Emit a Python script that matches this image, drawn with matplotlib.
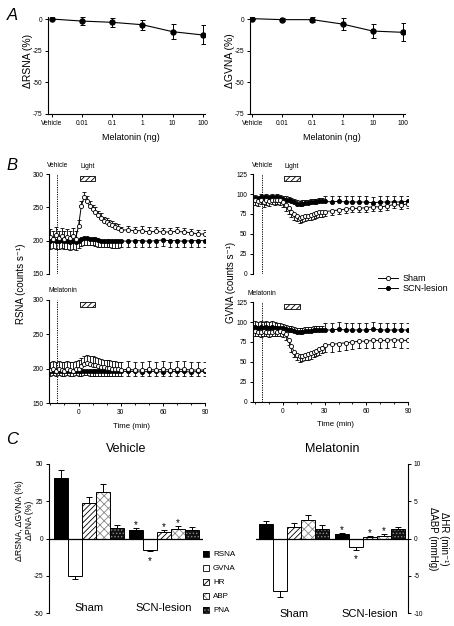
import matplotlib
matplotlib.use('Agg')
import matplotlib.pyplot as plt
import numpy as np
from matplotlib.patches import Rectangle
from matplotlib.lines import Line2D
import matplotlib.transforms as mtransforms

plt.rcParams['font.family'] = ['Liberation Sans', 'DejaVu Sans']
plt.rcParams['axes.unicode_minus'] = False
plt.rcParams['hatch.linewidth'] = 0.6

# ---------------- data ----------------
dose_labels = ['Vehicle', '0.01', '0.1', '1', '10', '100']
rsna_dose = [0, -1.6, -2.6, -4.5, -10, -12.6]
rsna_dose_err = [0, 3, 3.7, 4, 6, 7.5]
gvna_dose = [0.3, -0.5, -0.5, -4, -9.5, -10.5]
gvna_dose_err = [0, 1, 2, 4.7, 5.4, 7]

time_min = [-20, -18, -16, -14, -12, -10, -8, -6, -4, -2, 0, 2, 4, 6, 8, 10, 12, 14, 16, 18,
            20, 22, 24, 26, 28, 30, 35, 40, 45, 50, 55, 60, 65, 70, 75, 80, 85, 90]

rsna_veh_sham = [205, 203, 208, 204, 207, 203, 206, 204, 207, 203,
                 222, 252, 265, 259, 252, 247, 243, 238, 234, 230, 228, 225, 223, 221, 219,
                 216, 216, 215, 215, 213, 214, 213, 213, 214, 213, 212, 210, 210]
rsna_veh_sham_err = [12, 11, 12, 11, 12, 11, 12, 11, 12, 11,
                     9, 8, 8, 8, 7, 7, 7, 7, 7, 6, 6, 6, 6, 6, 6,
                     5, 6, 6, 7, 7, 6, 6, 6, 6, 6, 6, 6, 6]
rsna_veh_scn = [200, 201, 199, 200, 201, 199, 200, 198, 199, 198,
                199, 202, 204, 204, 203, 203, 202, 201, 200, 200, 200, 200, 199, 199, 199,
                200, 199, 200, 200, 199, 200, 201, 200, 200, 199, 200, 200, 200]
rsna_veh_scn_err = [12, 12, 12, 12, 12, 12, 12, 12, 12, 12,
                    10, 10, 10, 10, 10, 10, 10, 10, 10, 10, 10, 10, 10, 10, 10,
                    9, 9, 9, 9, 9, 9, 9, 9, 9, 9, 9, 9, 9]

rsna_mel_sham = [198, 199, 197, 199, 198, 197, 199, 198, 197, 199,
                 200, 204, 207, 208, 207, 206, 205, 204, 203, 202, 201, 201, 200, 200, 199,
                 198, 199, 198, 198, 199, 198, 199, 198, 199, 199, 198, 198, 198]
rsna_mel_sham_err = [12, 12, 12, 12, 12, 12, 12, 12, 12, 12,
                     12, 12, 12, 12, 12, 12, 12, 11, 11, 11, 11, 11, 11, 11, 11,
                     12, 12, 12, 12, 12, 12, 12, 12, 12, 12, 12, 12, 12]
rsna_mel_scn = [196, 197, 196, 197, 196, 196, 197, 196, 196, 197,
                196, 196, 197, 197, 196, 196, 196, 196, 196, 196, 196, 196, 196, 196, 196,
                196, 196, 196, 195, 196, 196, 195, 196, 196, 196, 195, 196, 196]
rsna_mel_scn_err = [6, 6, 6, 6, 6, 6, 6, 6, 6, 6,
                    6, 6, 6, 6, 6, 6, 6, 6, 6, 6, 6, 6, 6, 6, 6,
                    6, 6, 6, 6, 6, 6, 6, 6, 6, 6, 6, 6, 6]

gvna_veh_sham = [92, 91, 93, 90, 92, 91, 93, 92, 93, 92,
                 90, 86, 82, 78, 75, 72, 70, 71, 72, 73, 74, 75, 76, 77, 77,
                 78, 79, 80, 81, 82, 82, 83, 84, 84, 85, 87, 86, 88]
gvna_veh_sham_err = [6, 6, 6, 6, 6, 6, 6, 6, 6, 6,
                     6, 7, 7, 7, 7, 6, 6, 6, 6, 6, 6, 6, 6, 6, 6,
                     5, 5, 5, 5, 5, 5, 5, 5, 5, 5, 5, 5, 5]
gvna_veh_scn = [95, 94, 96, 95, 96, 95, 96, 95, 96, 95,
                94, 93, 92, 91, 90, 88, 87, 88, 89, 89, 90, 90, 90, 91, 91,
                91, 90, 91, 90, 90, 90, 90, 89, 90, 90, 90, 90, 91]
gvna_veh_scn_err = [4, 4, 4, 4, 4, 4, 4, 4, 4, 4,
                    4, 4, 4, 4, 4, 4, 4, 4, 4, 4, 4, 4, 4, 4, 4,
                    7, 7, 7, 7, 7, 7, 7, 7, 7, 7, 7, 7, 7]

gvna_mel_sham = [89, 88, 87, 89, 88, 87, 88, 89, 88, 89,
                 88, 85, 78, 70, 63, 59, 57, 58, 59, 60, 61, 63, 64, 66, 68,
                 71, 72, 73, 74, 75, 76, 76, 77, 77, 77, 78, 77, 77]
gvna_mel_sham_err = [6, 6, 6, 6, 6, 6, 6, 6, 6, 6,
                     7, 7, 7, 7, 7, 7, 7, 7, 7, 7, 7, 7, 7, 7, 7,
                     9, 9, 9, 9, 9, 9, 9, 9, 9, 9, 9, 9, 9]
gvna_mel_scn = [94, 93, 94, 93, 94, 93, 94, 93, 92, 92,
                92, 91, 90, 90, 89, 88, 88, 88, 89, 89, 89, 90, 90, 90, 90,
                90, 90, 91, 90, 90, 90, 90, 91, 90, 90, 90, 90, 90]
gvna_mel_scn_err = [7, 7, 7, 7, 7, 7, 7, 7, 7, 7,
                    5, 5, 5, 5, 5, 5, 5, 5, 5, 5, 5, 5, 5, 5, 5,
                    9, 9, 9, 9, 9, 9, 9, 9, 9, 9, 9, 9, 9]

measures = ['RSNA', 'GVNA', 'HR', 'ABP', 'PNA']
groups = ['Sham', 'SCN-lesion']
veh_sham = [40.4, -25.3, 23.5, 31, 7]
veh_sham_err = [5.5, 2, 4.5, 5.5, 2]
veh_scn = [5.4, -7.4, 4.5, 6.5, 6]
veh_scn_err = [1.8, 1.2, 1, 2, 1.8]
mel_sham = [2.0, -7.1, 1.6, 2.5, 1.3]
mel_sham_err = [0.35, 0.8, 0.5, 0.6, 0.5]
mel_scn = [0.6, -1.2, 0.2, 0.4, 1.3]
mel_scn_err = [0.15, 0.3, 0.1, 0.2, 0.3]
scn_sig = [True, True, True, True, False]

# ---------------- figure ----------------
W, H = 454, 626
fig = plt.figure(figsize=(W / 100, H / 100), dpi=100)


def ax_px(x0, y0, x1, y1):
    return fig.add_axes([x0 / W, 1 - y1 / H, (x1 - x0) / W, (y1 - y0) / H])


TICK = 4.8
LAB = 7.0


def style(ax, left=True, bottom=True, right=False):
    for s in ['top', 'right', 'left', 'bottom']:
        ax.spines[s].set_visible(False)
    ax.spines['left'].set_visible(left)
    ax.spines['bottom'].set_visible(bottom)
    ax.spines['right'].set_visible(right)
    for s in ax.spines.values():
        s.set_linewidth(0.8)
    ax.tick_params(labelsize=TICK, length=2.5, width=0.7, pad=1.5)
    ax.tick_params(which='minor', length=1.6, width=0.6)


# ---- Panel A ----
for (x0, x1, vals, errs, ylab, lx, xl0) in [(48, 205, rsna_dose, rsna_dose_err, 'ΔRSNA (%)', -0.095, -0.12),
                                             (250, 405, gvna_dose, gvna_dose_err, 'ΔGVNA (%)', -0.097, -0.07)]:
    ax = ax_px(x0, 17, x1, 114)
    style(ax)
    xs = np.arange(len(dose_labels))
    ax.errorbar(xs, vals, yerr=errs, fmt='-o', color='k', ms=3.6, lw=0.8,
                elinewidth=0.7, capsize=1.8, capthick=0.7)
    ax.set_xticks(xs)
    ax.set_xticklabels(dose_labels)
    ax.set_yticks([0, -25, -50, -75])
    ax.set_ylim(-75, 1.6)
    ax.set_xlim(xl0, 5.07)
    ax.set_ylabel(ylab, fontsize=LAB + 0.5)
    ax.yaxis.set_label_coords(lx, 0.55)
    ax.set_xlabel('Melatonin (ng)', fontsize=LAB - 0.5)
    ax.xaxis.set_label_coords(0.53, -0.2)

# ---- Panel B ----
def ts(ax, y, err, up, filled):
    z = [0] * len(err)
    yerr = [z, err] if up else [err, z]
    ax.errorbar(time_min, y, yerr=yerr, fmt='-o', color='k', ms=3.0,
                mfc='k' if filled else 'white', mec='k', mew=0.6, lw=0.7,
                elinewidth=0.6, capsize=1.6, capthick=0.6)


def light_box(ax):
    tr = mtransforms.blended_transform_factory(ax.transData, ax.transAxes)
    ax.add_patch(Rectangle((1, 0.93), 11, 0.055, transform=tr, facecolor='white',
                           edgecolor='k', hatch='//////', lw=0.6, clip_on=False))


b_specs = [
    (49, 174, 205, 274, (150, 300), [150, 200, 250, 300], rsna_veh_sham, rsna_veh_sham_err,
     rsna_veh_scn, rsna_veh_scn_err, True, False, 'Vehicle', -15),
    (49, 300, 205, 403, (150, 300), [150, 200, 250, 300], rsna_mel_sham, rsna_mel_sham_err,
     rsna_mel_scn, rsna_mel_scn_err, True, True, 'Melatonin', -11),
    (253, 174, 408, 274, (0, 125), [0, 25, 50, 75, 100, 125], gvna_veh_sham, gvna_veh_sham_err,
     gvna_veh_scn, gvna_veh_scn_err, False, False, 'Vehicle', -15),
    (253, 302, 408, 402, (0, 125), [0, 25, 50, 75, 100, 125], gvna_mel_sham, gvna_mel_sham_err,
     gvna_mel_scn, gvna_mel_scn_err, False, True, 'Melatonin', -15),
]
for (x0, y0, x1, y1, ylim, yt, sh, she, sc, sce, sham_up, bottom, lbl, lblx) in b_specs:
    ax = ax_px(x0, y0, x1, y1)
    style(ax, bottom=bottom)
    ax.set_xlim(-21 if x0 == 49 else -21.6, 90)
    ax.set_ylim(*ylim)
    ax.set_yticks(yt)
    ax.axvline(-15, color='k', lw=0.7, ls=(0, (1.2, 1.2)))
    ts(ax, sc, sce, not sham_up, True)
    ts(ax, sh, she, sham_up, False)
    light_box(ax)
    tr = mtransforms.blended_transform_factory(ax.transData, ax.transAxes)
    ax.text(lblx, 1.09, lbl, transform=tr, ha='center', va='center', fontsize=TICK)
    if not bottom:
        ax.text(6.5, 1.08, 'Light', transform=tr, ha='center', va='center', fontsize=TICK)
        ax.set_xticks([])
    else:
        ax.set_xticks([0, 30, 60, 90])
        ax.set_xticks([-20, -10, 10, 20, 40, 50, 70, 80], minor=True)
        ax.set_xlabel('Time (min)', fontsize=TICK + 0.8)
        ax.xaxis.set_label_coords(0.53, -0.19)

fig.text(21 / W, 1 - 284 / H, 'RSNA (counts s⁻¹)', rotation=90, ha='center', va='center', fontsize=LAB)
fig.text(231 / W, 1 - 282 / H, 'GVNA (counts s⁻¹)', rotation=90, ha='center', va='center', fontsize=LAB)

leg_handles = [Line2D([], [], color='k', lw=0.7, marker='o', ms=3.0, mfc='white', mec='k', mew=0.6),
               Line2D([], [], color='k', lw=0.7, marker='o', ms=3.0, mfc='k', mec='k', mew=0.6)]
fig.legend(leg_handles, groups, loc='upper left', bbox_to_anchor=(378 / W, 1 - 274 / H),
           frameon=False, fontsize=6.5, handlelength=2.2, labelspacing=0.15,
           borderpad=0, handletextpad=0.5, borderaxespad=0)

# ---- Panel C ----
bar_styles = [dict(fc='black', hc='black', hatch=None),
              dict(fc='white', hc='black', hatch=None),
              dict(fc='white', hc='black', hatch='//////'),
              dict(fc='white', hc='#888888', hatch='xxxx'),
              dict(fc='#111111', hc='#888888', hatch='.....')]
offsets = [-28, -14, 0, 14, 28]
BW = 14


def draw_bars(ax, center, vals, errs, sig):
    for i, (v, e) in enumerate(zip(vals, errs)):
        st = bar_styles[i]
        x = center + offsets[i]
        ax.bar(x, v, BW, color=st['fc'], edgecolor=st['hc'], hatch=st['hatch'], lw=0, zorder=2)
        ax.bar(x, v, BW, fill=False, edgecolor='k', lw=0.7, zorder=3)
        ye = [[0], [e]] if v >= 0 else [[e], [0]]
        ax.errorbar([x], [v], yerr=ye, fmt='none', ecolor='k', elinewidth=0.7,
                    capsize=2, capthick=0.7, zorder=3)
        if sig is not None and sig[i]:
            if v >= 0:
                ax.annotate('*', (x, v + e), xytext=(0, 2), textcoords='offset points',
                            ha='center', va='center', fontsize=7)
            else:
                ax.annotate('*', (x, v - e), xytext=(0, -7), textcoords='offset points',
                            ha='center', va='center', fontsize=7)


axL = ax_px(49, 464, 203, 613)
style(axL, bottom=False)
axL.set_xlim(0, 154)
axL.set_ylim(-50, 50)
axL.set_yticks([50, 25, 0, -25, -50])
axL.set_xticks([])
axL.axhline(0, color='k', lw=0.9, zorder=4)
draw_bars(axL, 40, veh_sham, veh_sham_err, None)
draw_bars(axL, 115, veh_scn, veh_scn_err, scn_sig)
axL.set_title('Vehicle', fontsize=9, pad=9)
axL.text(40, -46.5, 'Sham', ha='center', va='center', fontsize=8)
axL.text(115, -46.5, 'SCN-lesion', ha='center', va='center', fontsize=8)
axL.set_ylabel('ΔRSNA, ΔGVNA (%)\nΔPNA (%)', fontsize=6.3, linespacing=1.15)
axL.yaxis.set_label_coords(-0.1, 0.62)

axR = ax_px(256, 464, 408, 613)
style(axR, left=False, bottom=False, right=True)
axR.yaxis.tick_right()
axR.set_xlim(0, 152)
axR.set_ylim(-10, 10)
axR.set_yticks([10, 5, 0, -5, -10])
axR.set_xticks([])
axR.axhline(0, color='k', lw=0.9, zorder=4)
draw_bars(axR, 38, mel_sham, mel_sham_err, None)
draw_bars(axR, 114, mel_scn, mel_scn_err, scn_sig)
axR.set_title('Melatonin', fontsize=9, pad=9)
axR.text(38, -10.2, 'Sham', ha='center', va='center', fontsize=8)
axR.text(114, -10.2, 'SCN-lesion', ha='center', va='center', fontsize=8)
axR.yaxis.set_label_position('right')
axR.set_ylabel('ΔHR (min⁻¹)\nΔABP (mmHg)', fontsize=7, rotation=270, linespacing=1.2,
               va='center')
axR.yaxis.set_label_coords(1.2, 0.5)

# legend for C
leg_y = [554, 568, 582, 596, 610]
for st, name, yy in zip(bar_styles, measures, leg_y):
    fig.patches.append(Rectangle((203 / W, 1 - (yy + 3) / H), 6 / W, 6 / H, transform=fig.transFigure,
                                 facecolor=st['fc'], edgecolor=st['hc'], hatch=st['hatch'], lw=0))
    fig.patches.append(Rectangle((203 / W, 1 - (yy + 3) / H), 6 / W, 6 / H, transform=fig.transFigure,
                                 fill=False, edgecolor='k', lw=0.6))
    fig.text(213 / W, 1 - yy / H, name, ha='left', va='center', fontsize=5.8)

# panel letters
for lt, yy in [('A', 15), ('B', 166), ('C', 440)]:
    fig.text(12 / W, 1 - yy / H, lt, ha='center', va='center', fontsize=12, style='italic')

fig.savefig('out.png', dpi=100)
